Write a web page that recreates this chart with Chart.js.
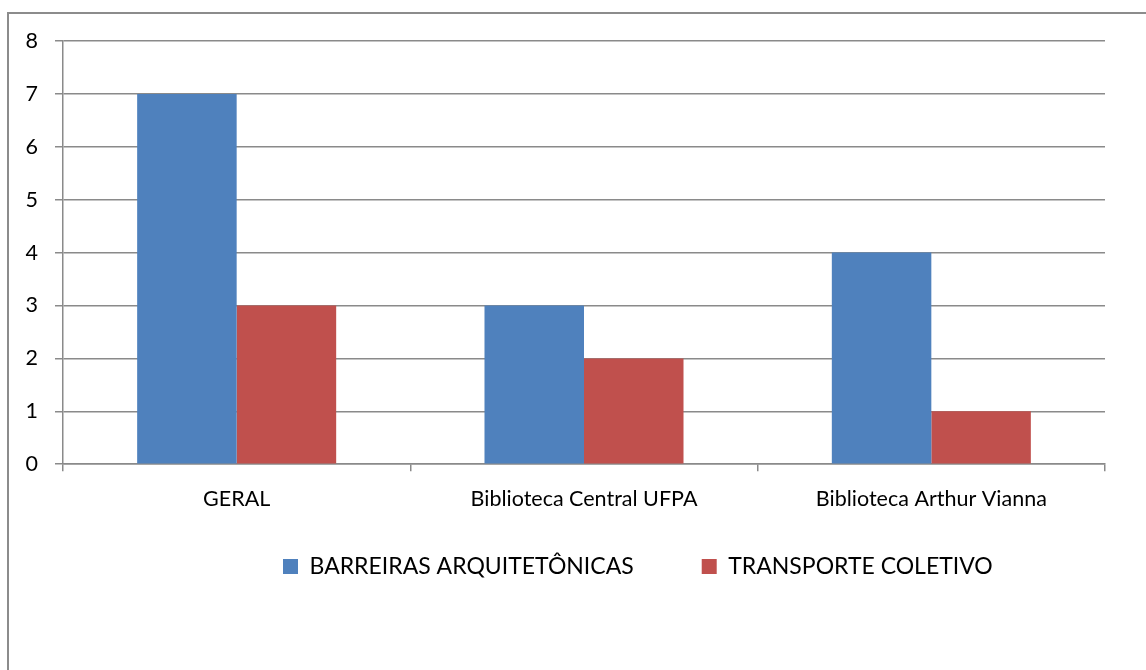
<!DOCTYPE html>
<html>
<head>
<meta charset="utf-8">
<script src="https://cdn.jsdelivr.net/npm/chart.js@4"></script>
<style>
  html, body { margin: 0; padding: 0; background: #fff; }
  #wrap { position: relative; width: 1146px; height: 670px; overflow: hidden; }
  #frame { position: absolute; left: 7px; top: 12px; width: 1200px; height: 700px; border-left: 2px solid #8c8c8c; border-top: 2px solid #8c8c8c; }
  canvas { position: absolute; left: 0; top: 0; }
</style>
</head>
<body>
<div id="wrap">
  <div id="frame"></div>
  <canvas id="c" width="1146" height="670"></canvas>
</div>
<script>
const categories = ["GERAL", "Biblioteca Central UFPA", "Biblioteca Arthur Vianna"];
const seriesNames = ["BARREIRAS ARQUITETÔNICAS", "TRANSPORTE COLETIVO"];
const barreiras = [7, 3, 4];
const transporte = [3, 2, 1];
const yTicks = [0, 1, 2, 3, 4, 5, 6, 7, 8];

const FONT = "Lato, 'Open Sans', sans-serif";
const GRID = '#8a8a8a';
const LEGEND_Y = 555;
const LEGEND_X = 283;

const legendPlace = {
  id: 'legendPlace',
  afterLayout(chart) {
    const lg = chart.legend;
    if (!lg) return;
    const pad = lg.options.labels.padding;
    const dy = (lg.top + pad) - LEGEND_Y;
    lg.top -= dy;
    lg.bottom -= dy;
    const w = lg.right - lg.left;
    lg.left = LEGEND_X - pad;
    lg.right = lg.left + w;
  }
};

new Chart(document.getElementById('c'), {
  type: 'bar',
  data: {
    labels: categories,
    datasets: [
      { label: seriesNames[0], data: barreiras, backgroundColor: '#4F81BD' },
      { label: seriesNames[1], data: transporte, backgroundColor: '#C0504D' }
    ]
  },
  plugins: [legendPlace],
  options: {
    responsive: false,
    animation: false,
    devicePixelRatio: 1,
    layout: { padding: { top: 41, right: 41, left: 0, bottom: 42 } },
    datasets: { bar: { categoryPercentage: 0.573, barPercentage: 1 } },
    plugins: {
      tooltip: { enabled: false },
      legend: {
        position: 'bottom',
        align: 'start',
        labels: {
          boxWidth: 15, boxHeight: 15, padding: 68,
          color: '#000',
          font: { family: FONT, size: 23 }
        }
      }
    },
    scales: {
      x: {
        grid: { display: true, drawOnChartArea: false, offset: true, color: GRID, lineWidth: 1.5, tickLength: 7 },
        border: { color: GRID, width: 1.5 },
        ticks: { color: '#000', padding: 15, maxRotation: 0, autoSkip: false, font: { family: FONT, size: 21.5 } }
      },
      y: {
        min: 0, max: 8,
        afterFit: s => { s.width = 63; },
        afterBuildTicks: s => { s.ticks = yTicks.map(v => ({ value: v })); },
        grid: { color: GRID, lineWidth: 1.5, tickLength: 8 },
        border: { color: GRID, width: 1.5 },
        ticks: { color: '#000', padding: 17, font: { family: FONT, size: 21.5 } }
      }
    }
  }
});
</script>
</body>
</html>
